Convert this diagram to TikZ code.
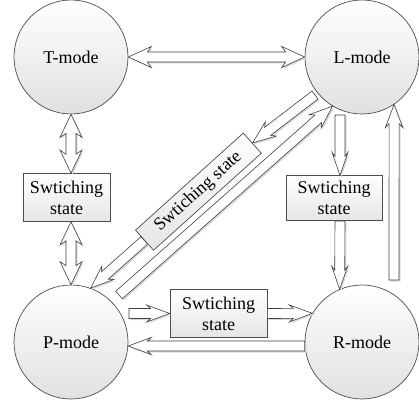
\documentclass[tikz,border=0pt]{standalone}
\usepackage{fontspec}
\setmainfont{Liberation Serif}
\usetikzlibrary{calc}

\tikzset{
  mode/.style={circle, draw=black!70, line width=0.7pt, minimum size=114pt,
    inner sep=0pt, top color=white, bottom color=black!12,
    font=\fontsize{18}{21}\selectfont},
  statebox/.style={rectangle, draw=black!70, line width=0.7pt,
    top color=white, bottom color=black!10, align=center, inner sep=0pt,
    font=\fontsize{18}{21}\selectfont},
  barrow/.style={draw=black!75, line width=0.6pt, fill=white, line join=miter},
  barrowshadow/.style={fill=black!14, draw=none},
}

% Block arrow between two points.
% #1 = 1 (single head, flat tail) or 2 (double head), #2 = head half width (pt),
% #3 = start, #4 = end
\newcommand\blockarrow[4]{%
  \path let \p1=(#3), \p2=(#4) in \pgfextra{%
    \pgfmathsetmacro\bangle{atan2(\y2-\y1,\x2-\x1)}%
    \pgfmathsetmacro\blen{veclen(\x2-\x1,\y2-\y1)}%
    \global\let\BAangle\bangle \global\let\BAlen\blen};
  \pgfmathsetmacro\BAa{\BAlen-23}%
  \pgfmathsetmacro\BAb{\BAlen-19}%
  \ifnum#1=2
    \def\BApath{(0pt,0pt) -- (23pt,#2pt) -- (19pt,5pt) -- (\BAb pt,5pt) -- (\BAa pt,#2pt)
      -- (\BAlen pt,0pt) -- (\BAa pt,-#2pt) -- (\BAb pt,-5pt) -- (19pt,-5pt) -- (23pt,-#2pt) -- cycle}%
  \else
    \def\BApath{(0pt,5pt) -- (\BAb pt,5pt) -- (\BAa pt,#2pt) -- (\BAlen pt,0pt)
      -- (\BAa pt,-#2pt) -- (\BAb pt,-5pt) -- (0pt,-5pt) -- cycle}%
  \fi
  \path[barrowshadow, shift={(#3)}, xshift=1.5pt, yshift=-1.5pt, rotate=\BAangle] \BApath;
  \path[barrow, shift={(#3)}, rotate=\BAangle] \BApath;
}

\begin{document}
\begin{tikzpicture}[x=1pt, y=-1pt]
  \useasboundingbox (0,0) rectangle (419,403);

  % operating modes
  \node[mode] (T) at (71,57)  {T-mode};
  \node[mode] (L) at (362,57) {L-mode};
  \node[mode] (P) at (71,342) {P-mode};
  \node[mode] (R) at (362,342) {R-mode};

  % switching states
  \node[statebox, minimum width=87pt, minimum height=48pt] (s1) at (66.5,197.5) {Swtiching\\state};
  \node[statebox, minimum width=96pt, minimum height=45pt] (s2) at (334,198.2) {Swtiching\\state};
  \node[statebox, minimum width=97pt, minimum height=48pt] (s3) at (218.5,313.5) {Swtiching\\state};
  \node[statebox, rotate=42, minimum width=145pt, minimum height=27pt] (s4) at (198.4,191.7) {Swtiching state};

  % free ends of some transitions
  \coordinate (lt) at (340,115);
  \coordinate (rt) at (394,280);
  \coordinate (pt3) at (129,313.5);
  \coordinate (ld) at (315,95);
  \coordinate (pd) at (119,295);

  % transitions
  \blockarrow{2}{10.5}{T.east}{L.west}
  \blockarrow{2}{11}{T.south}{T.south |- s1.north}
  \blockarrow{2}{11}{P.north |- s1.south}{P.north}
  \blockarrow{1}{8}{lt}{lt |- s2.north}
  \blockarrow{1}{8}{lt |- s2.south}{R.113}
  \blockarrow{1}{8.7}{rt}{L.-56}
  \blockarrow{1}{8.5}{pt3}{s3.west}
  \blockarrow{1}{8.5}{s3.east}{R.150}
  \blockarrow{1}{8.5}{R.184}{P.-4}
  \blockarrow{1}{9}{ld}{s4.east}
  \blockarrow{1}{9}{s4.west}{P.70}
  \blockarrow{1}{9}{pd}{L.239}
\end{tikzpicture}
\end{document}
